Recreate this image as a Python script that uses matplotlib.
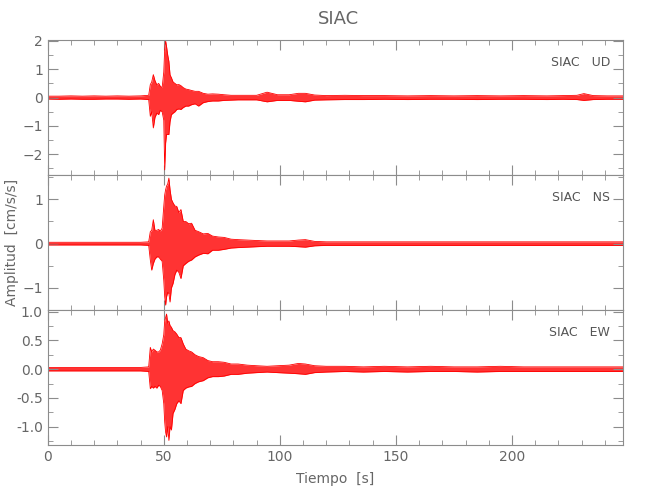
import matplotlib
matplotlib.use("Agg")
import matplotlib.pyplot as plt
from matplotlib.ticker import MultipleLocator

# envelope of each trace (time in s, amplitude in cm/s/s)
tiempo = [0, 5, 10, 15, 20, 25, 30, 35, 40, 43.5, 44.2, 44.8, 45.5, 46.2, 47, 47.8,
          48.5, 49.3, 50, 50.4, 50.8, 51.2, 51.7, 52.2, 52.7, 53.3, 54, 54.8, 55.6,
          56.5, 57.4, 58.4, 59.5, 60.7, 62, 63.5, 65, 67, 69, 71, 73.5, 76, 79, 82,
          86, 90, 94.5, 99, 104, 108, 111, 115, 120, 128, 136, 145, 155, 165, 175,
          185, 195, 205, 215, 222, 228, 231, 235, 241, 248]

ud_max = [0.05, 0.05, 0.06, 0.05, 0.06, 0.05, 0.06, 0.05, 0.06, 0.08, 0.46, 0.55, 0.81,
          0.6, 0.45, 0.5, 0.4, 0.35, 0.9, 1.7, 2.0, 1.8, 1.5, 1.28, 0.8, 0.7, 0.55,
          0.5, 0.45, 0.46, 0.42, 0.35, 0.3, 0.28, 0.25, 0.22, 0.22, 0.15, 0.12, 0.13,
          0.12, 0.1, 0.08, 0.08, 0.08, 0.08, 0.19, 0.1, 0.1, 0.15, 0.15, 0.09, 0.07,
          0.08, 0.07, 0.07, 0.06, 0.07, 0.06, 0.07, 0.06, 0.07, 0.06, 0.07, 0.08,
          0.14, 0.07, 0.06, 0.06]
ud_min = [-0.05, -0.06, -0.05, -0.06, -0.06, -0.05, -0.05, -0.06, -0.05, -0.07, -0.66,
          -0.5, -1.07, -0.7, -0.55, -0.6, -0.45, -0.5, -0.8, -2.55, -1.6, -1.3, -1.3,
          -1.3, -0.85, -0.6, -0.55, -0.5, -0.42, -0.4, -0.42, -0.35, -0.3, -0.3,
          -0.25, -0.22, -0.3, -0.18, -0.14, -0.12, -0.12, -0.1, -0.09, -0.08, -0.08,
          -0.08, -0.15, -0.1, -0.1, -0.13, -0.15, -0.09, -0.08, -0.07, -0.07, -0.06,
          -0.07, -0.06, -0.06, -0.07, -0.06, -0.06, -0.07, -0.06, -0.07, -0.1,
          -0.07, -0.06, -0.06]

ns_max = [0.03, 0.03, 0.03, 0.03, 0.03, 0.03, 0.03, 0.03, 0.03, 0.04, 0.27, 0.3, 0.54,
          0.3, 0.3, 0.32, 0.28, 0.35, 0.84, 1.1, 1.22, 1.3, 1.35, 1.48, 1.22, 1.0,
          0.92, 0.85, 0.84, 0.7, 0.77, 0.5, 0.5, 0.45, 0.46, 0.3, 0.27, 0.22, 0.23,
          0.17, 0.15, 0.14, 0.1, 0.09, 0.08, 0.07, 0.06, 0.06, 0.06, 0.08, 0.09,
          0.05, 0.04, 0.04, 0.04, 0.04, 0.04, 0.04, 0.04, 0.04, 0.04, 0.04, 0.04,
          0.04, 0.04, 0.04, 0.04, 0.04, 0.04]
ns_min = [-0.03, -0.03, -0.03, -0.03, -0.03, -0.03, -0.03, -0.03, -0.03, -0.04, -0.37,
          -0.6, -0.45, -0.35, -0.3, -0.3, -0.35, -0.4, -0.83, -1.2, -1.39, -1.2, -1.1,
          -1.13, -1.32, -1.0, -0.9, -0.7, -0.6, -0.65, -0.79, -0.5, -0.45, -0.4,
          -0.37, -0.3, -0.26, -0.22, -0.23, -0.15, -0.15, -0.13, -0.1, -0.09, -0.08,
          -0.07, -0.06, -0.06, -0.06, -0.07, -0.08, -0.05, -0.04, -0.04, -0.04,
          -0.04, -0.04, -0.04, -0.04, -0.04, -0.04, -0.04, -0.04, -0.04, -0.04,
          -0.04, -0.04, -0.04, -0.04]

ew_max = [0.03, 0.03, 0.03, 0.03, 0.03, 0.03, 0.03, 0.03, 0.03, 0.04, 0.38, 0.3, 0.35,
          0.33, 0.3, 0.3, 0.33, 0.44, 0.6, 0.84, 0.9, 0.96, 0.8, 0.84, 0.76, 0.73,
          0.67, 0.65, 0.61, 0.55, 0.55, 0.44, 0.35, 0.32, 0.3, 0.25, 0.22, 0.2, 0.15,
          0.13, 0.13, 0.12, 0.09, 0.09, 0.07, 0.06, 0.05, 0.06, 0.07, 0.1, 0.09,
          0.06, 0.05, 0.05, 0.04, 0.05, 0.04, 0.05, 0.04, 0.04, 0.05, 0.04, 0.04,
          0.04, 0.04, 0.04, 0.04, 0.04, 0.04]
ew_min = [-0.03, -0.03, -0.03, -0.03, -0.03, -0.03, -0.03, -0.03, -0.03, -0.04, -0.34,
          -0.3, -0.33, -0.3, -0.33, -0.28, -0.3, -0.37, -0.6, -0.92, -1.1, -1.18,
          -1.0, -1.24, -1.0, -1.06, -0.77, -0.7, -0.6, -0.55, -0.6, -0.37, -0.33,
          -0.31, -0.3, -0.25, -0.22, -0.2, -0.15, -0.13, -0.13, -0.12, -0.09, -0.09,
          -0.07, -0.06, -0.05, -0.06, -0.07, -0.08, -0.09, -0.06, -0.05, -0.04,
          -0.05, -0.04, -0.05, -0.04, -0.04, -0.05, -0.04, -0.04, -0.04, -0.04,
          -0.04, -0.04, -0.04, -0.04, -0.04]

componentes = ["UD", "NS", "EW"]
limites = [(-2.73, 2.03), (-1.5, 1.55), (-1.32, 1.03)]
paso_mayor = [1, 1, 0.5]
paso_menor = [0.5, 0.5, 0.25]

gris = "#8c8c8c"
plt.rcParams["font.family"] = "DejaVu Sans"

fig, axs = plt.subplots(3, 1, figsize=(6.5, 5), dpi=100, sharex=True)
fig.subplots_adjust(left=0.0734, right=0.959, bottom=0.11, top=0.92, hspace=0)

trazas = [(ud_max, ud_min), (ns_max, ns_min), (ew_max, ew_min)]
for i, ax in enumerate(axs):
    arriba, abajo = trazas[i]
    ax.fill_between(tiempo, abajo, arriba, color="red", alpha=0.8, lw=0)
    ax.plot(tiempo, arriba, color="red", lw=0.6)
    ax.plot(tiempo, abajo, color="red", lw=0.6)

    ax.set_xlim(0, 248)
    ax.set_ylim(*limites[i])
    ax.xaxis.set_major_locator(MultipleLocator(50))
    ax.xaxis.set_minor_locator(MultipleLocator(10))
    ax.yaxis.set_major_locator(MultipleLocator(paso_mayor[i]))
    ax.yaxis.set_minor_locator(MultipleLocator(paso_menor[i]))
    ax.tick_params(which="both", direction="in", top=True, right=True,
                   color=gris, labelcolor="#666666", labelsize=10)
    ax.tick_params(which="major", length=7)
    ax.tick_params(which="minor", length=3.5)
    for s in ax.spines.values():
        s.set_color(gris)
    ax.text(0.977, 0.835, "SIAC   " + componentes[i], transform=ax.transAxes,
            ha="right", va="center", fontsize=9, color="#555555")

axs[2].yaxis.set_major_formatter(plt.FormatStrFormatter("%.1f"))
axs[2].set_xlabel("Tiempo  [s]", color="#666666", fontsize=10, labelpad=6)
fig.text(0.018, 0.515, "Amplitud  [cm/s/s]", rotation=90, ha="center", va="center",
         color="#666666", fontsize=10)
fig.text(0.52, 0.962, "SIAC", ha="center", va="center", color="#666666", fontsize=13)

fig.savefig("out.png", dpi=100)
